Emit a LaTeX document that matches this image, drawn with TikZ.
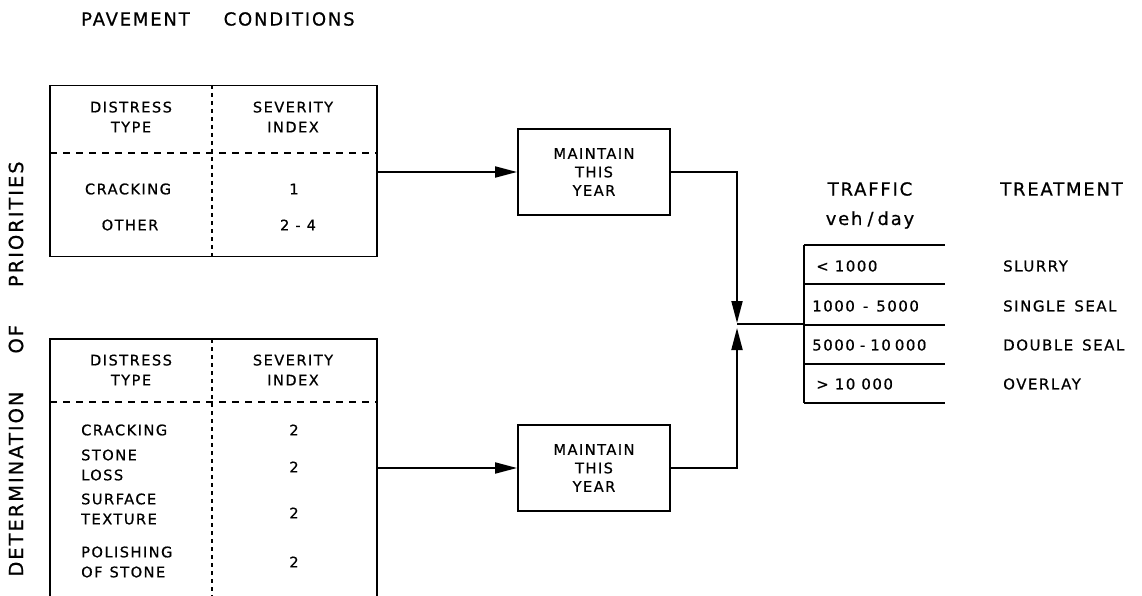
\documentclass[tikz,border=0pt]{standalone}
\usepackage{fontspec}
\setmainfont{DejaVu Sans}
\newfontfamily\lettering[LetterSpace=10,FakeBold=0.6]{DejaVu Sans}
\usetikzlibrary{arrows.meta}

\begin{document}
\begin{tikzpicture}[x=1pt,y=-1pt,
  frame/.style={draw,line width=1.9pt},
  txt/.style={font=\lettering\fontsize{14.6}{20}\selectfont, inner sep=0pt, align=center},
  ltxt/.style={txt, align=left, anchor=west},
  head/.style={font=\lettering\fontsize{18}{21}\selectfont, inner sep=0pt},
  rowtxt/.style={font=\lettering\fontsize{15}{17}\selectfont, inner sep=0pt, anchor=west},
  hdash/.style={line width=1.4pt, dash pattern=on 7pt off 6pt},
  vdash/.style={line width=1.4pt, dash pattern=on 4pt off 4pt},
  conn/.style={line width=1.9pt},
  arr/.style={conn, -{Triangle[length=22pt,width=11pt]}},
  mbox/.style={frame, minimum width=152pt, minimum height=86pt, inner sep=0pt,
    font=\lettering\fontsize{14.6}{18.5}\selectfont, align=center}
]
\useasboundingbox (0,0) rectangle (1142,596);

% titles
\node[head, anchor=west] (ttl) at (81,19) {PAVEMENT\hspace{34pt}CONDITIONS};
\node[head, rotate=90, font=\lettering\fontsize{19.5}{22}\selectfont] (side) at (16,369)
  {DETERMINATION\hspace{38pt}OF\hspace{38pt}PRIORITIES};

% upper condition table
\node[frame, minimum width=327pt, minimum height=171pt, inner sep=0pt] (t1) at (213.5,171) {};
\draw[hdash] (50,153) -- (377,153);
\draw[vdash] (212,85) -- (212,256);
\node[txt] (t1a) at (131,117) {DISTRESS\\TYPE};
\node[txt] (t1b) at (293,117) {SEVERITY\\INDEX};
\node[txt] (t1c) at (128,189) {CRACKING};
\node[txt] (t1d) at (130,225) {OTHER};
\node[txt] (t1e) at (294,189) {1};
\node[txt] (t1f) at (298,225) {2\hspace{6pt}-\hspace{6pt}4};

% lower condition table (runs off the bottom edge)
\draw[frame] (50,597) |- (377,339) -- (377,597);
\draw[hdash] (50,402) -- (377,402);
\draw[vdash] (212,339) -- (212,597);
\coordinate (t2e) at (377,468);
\node[txt] (t2a) at (131,370) {DISTRESS\\TYPE};
\node[txt] (t2b) at (293,370) {SEVERITY\\INDEX};
\node[ltxt] (t2c) at (81,430) {CRACKING};
\node[ltxt] (t2d) at (81,465) {STONE\\LOSS};
\node[ltxt] (t2e1) at (81,509) {SURFACE\\TEXTURE};
\node[ltxt] (t2f) at (81,562) {POLISHING\\OF\hspace{7pt}STONE};
\node[txt] (t2g) at (294,430) {2};
\node[txt] (t2h) at (294,467) {2};
\node[txt] (t2i) at (294,513) {2};
\node[txt] (t2j) at (294,562) {2};

% maintenance boxes
\node[mbox] (m1) at (594,172) {MAINTAIN\\THIS\\YEAR};
\node[mbox] (m2) at (594,468) {MAINTAIN\\THIS\\YEAR};

\draw[arr] (t1.east |- m1.west) -- (m1.west);
\draw[arr] (t2e) -- (t2e -| m2.west);

% merge point
\coordinate (jt) at (737,323);
\coordinate (jb) at (737,328);
\coordinate (j) at (737,324);
\draw[arr] (m1.east) -| (jt);
\draw[arr] (m2.east) -| (jb);

% traffic / treatment table
\coordinate (tl) at (804,324);
\draw[conn] (j) -- (tl);
\draw[conn] (804,245) -- (804,403);
\foreach \yy in {245,284,325,364,403}
  \draw[conn] (804,\yy) -- (945,\yy);

\node[head, anchor=center] (trf) at (870,189) {TRAFFIC};
\node[head, anchor=center] (vpd) at (870,220) {veh\hspace{5pt}/\hspace{4pt}day};
\node[head, anchor=west] (trt) at (1000,189) {TREATMENT};

\node[rowtxt] (r1) at (816,266) {<\hspace{6pt}1000};
\node[rowtxt] (r2) at (812,306) {1000\hspace{8pt}-\hspace{8pt}5000};
\node[rowtxt] (r3) at (812,345) {5000\hspace{5pt}-\hspace{5pt}10\hspace{4pt}000};
\node[rowtxt] (r4) at (816,384) {>\hspace{6pt}10\hspace{6pt}000};

\node[rowtxt] (s1) at (1003,266) {SLURRY};
\node[rowtxt] (s2) at (1003,306) {SINGLE\hspace{9pt}SEAL};
\node[rowtxt] (s3) at (1003,345) {DOUBLE\hspace{9pt}SEAL};
\node[rowtxt] (s4) at (1003,384) {OVERLAY};
\end{tikzpicture}
\end{document}
